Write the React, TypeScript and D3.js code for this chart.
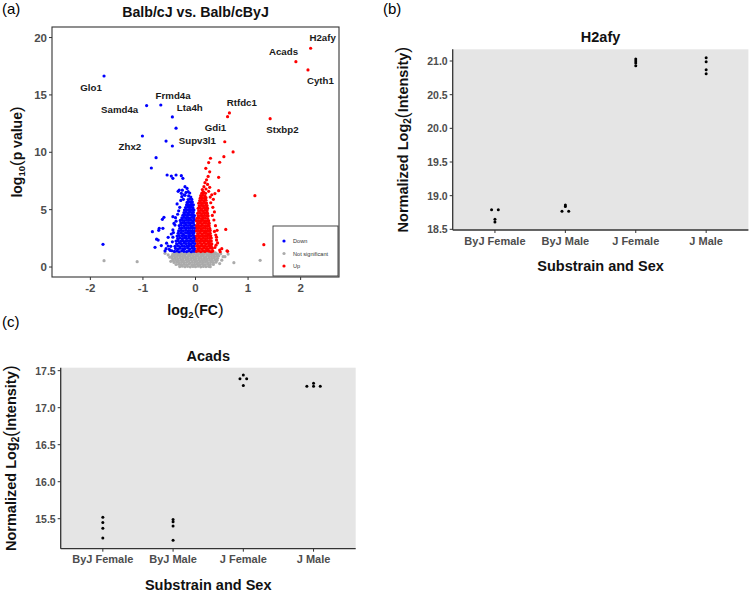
import React from "react";
import * as d3 from "d3";

// ---------------- Panel (a): volcano data ----------------
const volcanoXTicks = [-2, -1, 0, 1, 2];
const volcanoYTicks = [0, 5, 10, 15, 20];
const legendLabels = ["Down", "Not significant", "Up"];

// [log2 FC, -log10 p]
const downPoints: [number, number][] = [
  [-1.74, 16.65], [-0.93, 14.07], [-0.66, 14.12], [-0.44, 13.08], [-0.37, 12.1], [-1.01, 11.42], [-0.56, 10.98], [-0.44, 10.55],
  [-0.75, 9.53], [-0.84, 8.63], [-0.54, 8.02], [-0.46, 7.93], [-0.43, 7.73], [-0.37, 8.02], [-0.27, 7.96], [-0.24, 7.73],
  [-0.2, 7.0], [-0.31, 6.71], [-0.27, 6.42], [-0.26, 6.13], [-0.14, 6.57], [-0.43, 4.39], [-0.63, 4.16], [-0.6, 4.33],
  [-0.69, 3.37], [-0.62, 3.37], [-0.82, 3.08], [-0.74, 2.43], [-0.77, 1.72], [-0.55, 2.08], [-0.5, 1.55], [-0.46, 2.88],
  [-0.52, 2.59], [-0.43, 3.23], [-0.39, 3.66], [-0.37, 4.0], [-1.76, 1.98], [-0.65, 1.87], [-0.56, 1.6], [-0.58, 1.4],
  [-0.48, 1.45], [-0.71, 2.35], [-0.7, 3.2], [-0.52, 1.83],
  [-0.2, 6.25], [-0.13, 6.2], [-0.18, 6.5], [-0.11, 6.45], [-0.22, 6.3], [-0.25, 6.7], [-0.16, 6.85], [-0.33, 6.6],
  [-0.35, 5.5], [-0.3, 5.2], [-0.28, 5.8], [-0.34, 4.6], [-0.38, 4.3], [-0.32, 4.9], [-0.41, 3.8], [-0.44, 2.2],
  [-0.42, 3.0], [-0.47, 1.8], [-0.45, 1.42], [-0.43, 2.6], [-0.23, 5.9], [-0.09, 6.1],
  [-0.4, 1.36], [-0.35, 1.4], [-0.31, 1.33], [-0.26, 1.42], [-0.22, 1.37], [-0.17, 1.35], [-0.13, 1.41], [-0.08, 1.34], [-0.04, 1.39], [-0.01, 1.38],
  [-0.38, 1.62], [-0.33, 1.57], [-0.29, 1.64], [-0.24, 1.59], [-0.2, 1.61], [-0.15, 1.66], [-0.11, 1.58], [-0.06, 1.63], [-0.02, 1.6],
  [-0.39, 1.8], [-0.34, 1.85], [-0.3, 1.79], [-0.25, 1.84], [-0.21, 1.81], [-0.16, 1.83], [-0.12, 1.86], [-0.07, 1.8], [-0.03, 1.82],
  [-0.36, 2.03], [-0.31, 2.07], [-0.27, 2.02], [-0.22, 2.08], [-0.18, 2.04], [-0.13, 2.06], [-0.09, 2.01], [-0.05, 2.07], [-0.01, 2.05],
  [-0.37, 2.26], [-0.33, 2.3], [-0.28, 2.24], [-0.24, 2.29], [-0.19, 2.25], [-0.15, 2.28], [-0.1, 2.27], [-0.06, 2.23], [-0.02, 2.3],
  [-0.34, 2.48], [-0.3, 2.52], [-0.25, 2.47], [-0.21, 2.53], [-0.17, 2.49], [-0.12, 2.51], [-0.08, 2.46], [-0.04, 2.52], [-0.01, 2.5],
  [-0.35, 2.7], [-0.31, 2.74], [-0.26, 2.71], [-0.22, 2.75], [-0.18, 2.69], [-0.13, 2.73], [-0.09, 2.72], [-0.05, 2.76], [-0.02, 2.7],
  [-0.33, 2.94], [-0.28, 2.97], [-0.24, 2.92], [-0.19, 2.98], [-0.15, 2.95], [-0.11, 2.93], [-0.07, 2.97], [-0.03, 2.96],
  [-0.32, 3.15], [-0.27, 3.19], [-0.23, 3.16], [-0.18, 3.2], [-0.14, 3.14], [-0.1, 3.18], [-0.06, 3.17], [-0.02, 3.15],
  [-0.3, 3.38], [-0.26, 3.42], [-0.21, 3.39], [-0.17, 3.41], [-0.13, 3.37], [-0.09, 3.43], [-0.05, 3.4], [-0.01, 3.38],
  [-0.31, 3.61], [-0.27, 3.64], [-0.22, 3.6], [-0.18, 3.65], [-0.14, 3.62], [-0.1, 3.63], [-0.06, 3.59], [-0.02, 3.64],
  [-0.28, 3.84], [-0.24, 3.87], [-0.2, 3.83], [-0.16, 3.88], [-0.12, 3.85], [-0.08, 3.86], [-0.04, 3.84],
  [-0.29, 4.06], [-0.25, 4.09], [-0.21, 4.05], [-0.17, 4.1], [-0.13, 4.07], [-0.09, 4.08], [-0.05, 4.04], [-0.02, 4.09],
  [-0.26, 4.28], [-0.22, 4.32], [-0.18, 4.29], [-0.14, 4.31], [-0.1, 4.27], [-0.06, 4.33], [-0.03, 4.3],
  [-0.24, 4.51], [-0.2, 4.54], [-0.16, 4.5], [-0.12, 4.55], [-0.08, 4.52], [-0.05, 4.53], [-0.02, 4.49],
  [-0.22, 4.74], [-0.18, 4.77], [-0.14, 4.73], [-0.11, 4.78], [-0.07, 4.75], [-0.04, 4.76],
  [-0.21, 4.96], [-0.17, 4.99], [-0.13, 4.95], [-0.1, 5.0], [-0.06, 4.97], [-0.03, 4.98],
  [-0.19, 5.18], [-0.15, 5.22], [-0.12, 5.19], [-0.08, 5.21], [-0.05, 5.17],
  [-0.17, 5.41], [-0.14, 5.44], [-0.1, 5.4], [-0.07, 5.45], [-0.04, 5.42],
  [-0.16, 5.63], [-0.12, 5.67], [-0.09, 5.64], [-0.06, 5.66],
  [-0.14, 5.88], [-0.1, 5.92], [-0.07, 5.89],
];

const upPoints: [number, number][] = [
  [2.19, 19.07], [1.91, 17.9], [2.14, 17.18], [0.645, 13.43], [0.61, 13.1], [1.42, 12.93], [0.557, 10.92], [0.715, 10.03],
  [0.54, 9.62], [0.285, 9.48], [0.46, 9.13], [0.25, 9.1], [0.196, 8.6], [0.27, 8.3], [0.44, 7.82], [0.44, 6.65],
  [0.37, 6.4], [1.13, 6.22], [0.576, 3.28], [0.41, 3.2], [0.4, 2.6], [0.386, 2.79], [0.4, 2.35], [0.39, 1.9],
  [0.46, 1.48], [0.6, 1.42], [1.3, 1.95], [0.61, 1.37], [0.47, 1.33],
  [0.21, 7.6], [0.18, 7.35], [0.23, 7.2], [0.16, 7.0], [0.27, 6.95], [0.2, 6.8], [0.13, 6.75], [0.25, 6.6],
  [0.31, 6.3], [0.34, 5.9], [0.29, 5.6], [0.33, 5.2], [0.36, 4.8], [0.32, 4.5], [0.35, 4.1], [0.38, 3.6],
  [0.36, 3.1], [0.42, 2.1], [0.37, 1.7], [0.5, 1.6], [0.28, 6.1], [0.24, 7.9], [0.15, 6.55],
  [0.02, 1.37], [0.06, 1.41], [0.1, 1.35], [0.14, 1.4], [0.18, 1.36], [0.22, 1.42], [0.26, 1.38], [0.3, 1.34], [0.33, 1.39],
  [0.04, 1.6], [0.08, 1.63], [0.12, 1.58], [0.16, 1.64], [0.2, 1.61], [0.24, 1.59], [0.28, 1.65], [0.32, 1.62],
  [0.02, 1.83], [0.06, 1.8], [0.1, 1.85], [0.14, 1.81], [0.18, 1.84], [0.22, 1.79], [0.26, 1.86], [0.3, 1.82],
  [0.04, 2.04], [0.08, 2.07], [0.12, 2.02], [0.16, 2.08], [0.2, 2.03], [0.24, 2.06], [0.28, 2.05], [0.31, 2.01],
  [0.02, 2.26], [0.06, 2.29], [0.1, 2.24], [0.14, 2.3], [0.18, 2.25], [0.22, 2.28], [0.26, 2.23], [0.3, 2.27],
  [0.03, 2.48], [0.07, 2.51], [0.11, 2.46], [0.15, 2.52], [0.19, 2.47], [0.23, 2.5], [0.27, 2.49], [0.3, 2.53],
  [0.02, 2.7], [0.06, 2.73], [0.1, 2.68], [0.14, 2.74], [0.18, 2.71], [0.22, 2.69], [0.26, 2.75], [0.29, 2.72],
  [0.04, 2.92], [0.08, 2.95], [0.12, 2.9], [0.16, 2.96], [0.2, 2.93], [0.24, 2.91], [0.28, 2.94],
  [0.02, 3.14], [0.06, 3.17], [0.1, 3.12], [0.14, 3.18], [0.18, 3.15], [0.22, 3.13], [0.26, 3.16], [0.28, 3.19],
  [0.03, 3.36], [0.07, 3.39], [0.11, 3.34], [0.15, 3.4], [0.19, 3.37], [0.23, 3.35], [0.27, 3.38],
  [0.02, 3.58], [0.06, 3.61], [0.1, 3.56], [0.14, 3.62], [0.18, 3.59], [0.22, 3.57], [0.26, 3.6],
  [0.04, 3.8], [0.08, 3.83], [0.12, 3.78], [0.16, 3.84], [0.2, 3.81], [0.24, 3.79], [0.26, 3.82],
  [0.02, 4.02], [0.06, 4.05], [0.1, 4.0], [0.14, 4.06], [0.18, 4.03], [0.22, 4.01], [0.25, 4.04],
  [0.03, 4.24], [0.07, 4.27], [0.11, 4.22], [0.15, 4.28], [0.19, 4.25], [0.23, 4.23],
  [0.05, 4.46], [0.09, 4.49], [0.13, 4.44], [0.17, 4.5], [0.21, 4.47], [0.24, 4.45],
  [0.04, 4.68], [0.08, 4.71], [0.12, 4.66], [0.16, 4.72], [0.2, 4.69], [0.23, 4.67],
  [0.06, 4.9], [0.1, 4.93], [0.14, 4.88], [0.18, 4.94], [0.22, 4.91],
  [0.05, 5.12], [0.09, 5.15], [0.13, 5.1], [0.17, 5.16], [0.21, 5.13], [0.23, 5.11],
  [0.07, 5.34], [0.11, 5.37], [0.15, 5.32], [0.19, 5.38], [0.22, 5.35],
  [0.06, 5.56], [0.1, 5.59], [0.14, 5.54], [0.18, 5.6], [0.21, 5.57],
  [0.08, 5.78], [0.12, 5.81], [0.16, 5.76], [0.2, 5.82],
  [0.09, 6.0], [0.13, 6.03], [0.17, 5.98], [0.2, 6.04],
  [0.1, 6.22], [0.14, 6.25], [0.18, 6.2],
  [0.12, 6.44], [0.16, 6.47], [0.19, 6.42],
];

const notSigPoints: [number, number][] = [
  [-1.74, 0.55], [-1.11, 0.47], [0.73, 0.38], [1.23, 0.58], [0.56, 0.9], [0.62, 1.13], [0.525, 0.9], [-0.58, 1.19],
  [-0.49, 0.85], [-0.52, 1.05], [0.48, 1.15], [0.5, 0.6], [-0.47, 0.5], [0.46, 0.3],
  [-0.3, 0.04], [-0.25, 0.07], [-0.2, 0.03], [-0.15, 0.06], [-0.1, 0.02], [-0.05, 0.05], [0.0, 0.03], [0.05, 0.07], [0.1, 0.02], [0.15, 0.05], [0.2, 0.04], [0.25, 0.06], [0.28, 0.03],
  [-0.37, 0.22], [-0.32, 0.25], [-0.27, 0.2], [-0.22, 0.24], [-0.17, 0.21], [-0.12, 0.26], [-0.07, 0.19], [-0.02, 0.23], [0.03, 0.25], [0.08, 0.2], [0.13, 0.24], [0.18, 0.22], [0.23, 0.26], [0.28, 0.21], [0.34, 0.23],
  [-0.41, 0.4], [-0.36, 0.43], [-0.31, 0.38], [-0.26, 0.42], [-0.21, 0.39], [-0.16, 0.44], [-0.11, 0.37], [-0.06, 0.41], [-0.01, 0.43], [0.04, 0.38], [0.09, 0.42], [0.14, 0.4], [0.19, 0.44], [0.24, 0.37], [0.29, 0.41], [0.34, 0.39], [0.39, 0.42],
  [-0.43, 0.58], [-0.38, 0.61], [-0.33, 0.56], [-0.28, 0.6], [-0.23, 0.57], [-0.18, 0.62], [-0.13, 0.55], [-0.08, 0.59], [-0.03, 0.61], [0.02, 0.56], [0.07, 0.6], [0.12, 0.58], [0.17, 0.62], [0.22, 0.55], [0.27, 0.59], [0.32, 0.57], [0.37, 0.61], [0.41, 0.58],
  [-0.44, 0.76], [-0.39, 0.79], [-0.34, 0.74], [-0.29, 0.78], [-0.24, 0.75], [-0.19, 0.8], [-0.14, 0.73], [-0.09, 0.77], [-0.04, 0.79], [0.01, 0.74], [0.06, 0.78], [0.11, 0.76], [0.16, 0.8], [0.21, 0.73], [0.26, 0.77], [0.31, 0.75], [0.36, 0.79], [0.42, 0.76],
  [-0.45, 0.94], [-0.4, 0.97], [-0.35, 0.92], [-0.3, 0.96], [-0.25, 0.93], [-0.2, 0.98], [-0.15, 0.91], [-0.1, 0.95], [-0.05, 0.97], [0.0, 0.92], [0.05, 0.96], [0.1, 0.94], [0.15, 0.98], [0.2, 0.91], [0.25, 0.95], [0.3, 0.93], [0.35, 0.97], [0.4, 0.94], [0.44, 0.96],
  [-0.43, 1.12], [-0.38, 1.15], [-0.33, 1.1], [-0.28, 1.14], [-0.23, 1.11], [-0.18, 1.16], [-0.13, 1.09], [-0.08, 1.13], [-0.03, 1.15], [0.02, 1.1], [0.07, 1.14], [0.12, 1.12], [0.17, 1.16], [0.22, 1.09], [0.27, 1.13], [0.32, 1.11], [0.37, 1.15], [0.42, 1.12],
  [-0.4, 1.26], [-0.34, 1.24], [-0.28, 1.27], [-0.22, 1.25], [-0.16, 1.28], [-0.1, 1.23], [-0.04, 1.26], [0.03, 1.24], [0.09, 1.27], [0.15, 1.25], [0.21, 1.28], [0.27, 1.23], [0.33, 1.26], [0.38, 1.24],
];

// labelled genes
const geneNames = ["H2afy", "Acads", "Cyth1", "Glo1", "Frmd4a", "Samd4a", "Lta4h", "Rtfdc1", "Gdi1", "Stxbp2", "Supv3l1", "Zhx2"];
const geneFC = [2.19, 1.91, 2.14, -1.74, -0.66, -0.93, -0.44, 0.645, 0.557, 1.42, -0.44, -1.01];
const geneP = [19.07, 17.9, 17.18, 16.65, 14.12, 14.07, 13.08, 13.43, 10.92, 12.93, 10.55, 11.42];

// ---------------- Panels (b), (c): dot plot data ----------------
const groups = ["ByJ Female", "ByJ Male", "J Female", "J Male"];
const h2afyByJFemale = [18.79, 18.79, 18.65, 18.61];
const h2afyByJMale = [18.86, 18.84, 18.77, 18.77];
const h2afyJFemale = [21.03, 21.0, 20.97, 20.93];
const h2afyJMale = [21.05, 20.99, 20.87, 20.81];
const h2afyTicks = [18.5, 19.0, 19.5, 20.0, 20.5, 21.0];

const acadsByJFemale = [15.52, 15.45, 15.37, 15.24];
const acadsByJMale = [15.49, 15.46, 15.4, 15.21];
const acadsJFemale = [17.44, 17.39, 17.39, 17.3];
const acadsJMale = [17.33, 17.29, 17.29, 17.29];
const acadsTicks = [15.5, 16.0, 16.5, 17.0, 17.5];

// ---------------- styling / layout ----------------
const FONT = "'Liberation Sans', Arial, Helvetica, sans-serif";
const TICK_COL = "#4D4D4D";
const LINE_COL = "#333333";
const BLUE = "#0000FF";
const RED = "#FF0000";
const GREY = "#ABABAB";

// label offsets in px (label placement, ggrepel-like)
const labelDx = [12, -12.4, 12.4, -13, 12.3, -27, 17.4, 12.4, -9.3, 12.3, 25, -12.5];
const labelDy = [-10.5, -10, 11, 11.7, -10, 4, -9.3, -10.3, -14, 11.3, -5, 10.7];

function Volcano() {
  const L = 52, R = 339, T = 27, B = 277;
  const x = d3.scaleLinear().domain([-2.73, 2.73]).range([L, R]);
  const y = d3.scaleLinear().domain([-0.87, 20.92]).range([B, T]);
  const r = 1.6;
  const legendX = 273, legendY = 226, legendW = 65, legendH = 50;
  const legendColors = [BLUE, GREY, RED];
  return (
    <g fontFamily={FONT}>
      <text x={2} y={14} fontSize={15}>(a)</text>
      <text x={(L + R) / 2} y={17} textAnchor="middle" fontSize={14.2} fontWeight="bold" fill="#111">
        Balb/cJ vs. Balb/cByJ
      </text>
      <rect x={L} y={T} width={R - L} height={B - T} fill="#fff" />
      {notSigPoints.map((d, i) => (
        <circle key={"g" + i} cx={x(d[0])} cy={y(d[1])} r={r} fill={GREY} />
      ))}
      {downPoints.map((d, i) => (
        <circle key={"b" + i} cx={x(d[0])} cy={y(d[1])} r={r} fill={BLUE} />
      ))}
      {upPoints.map((d, i) => (
        <circle key={"r" + i} cx={x(d[0])} cy={y(d[1])} r={r} fill={RED} />
      ))}
      {geneNames.map((g, i) => (
        <text key={g} x={x(geneFC[i]) + labelDx[i]} y={y(geneP[i]) + labelDy[i]} textAnchor="middle"
          dominantBaseline="central" fontSize={9.7} fontWeight="bold" fill="#1a1a1a">{g}</text>
      ))}
      <rect x={L} y={T} width={R - L} height={B - T} fill="none" stroke={LINE_COL} strokeWidth={1.1} />
      {volcanoYTicks.map((t) => (
        <g key={"yt" + t}>
          <line x1={L - 3} x2={L} y1={y(t)} y2={y(t)} stroke={LINE_COL} strokeWidth={1} />
          <text x={L - 5} y={y(t)} textAnchor="end" dominantBaseline="central" fontSize={11.5}
            fontWeight="bold" fill={TICK_COL}>{t}</text>
        </g>
      ))}
      {volcanoXTicks.map((t) => (
        <g key={"xt" + t}>
          <line x1={x(t)} x2={x(t)} y1={B} y2={B + 3} stroke={LINE_COL} strokeWidth={1} />
          <text x={x(t)} y={B + 11} textAnchor="middle" dominantBaseline="central" fontSize={11.5}
            fontWeight="bold" fill={TICK_COL}>{t}</text>
        </g>
      ))}
      {/* legend */}
      <rect x={legendX} y={legendY} width={legendW} height={legendH} fill="#fff" stroke={LINE_COL} strokeWidth={0.9} />
      {legendLabels.map((lab, i) => (
        <g key={lab}>
          <circle cx={legendX + 11} cy={legendY + 15 + i * 12.5} r={1.6} fill={legendColors[i]} />
          <text x={legendX + 20} y={legendY + 15 + i * 12.5} dominantBaseline="central" fontSize={5.6}
            fill="#333">{lab}</text>
        </g>
      ))}
      {/* axis titles */}
      <text x={(L + R) / 2} y={315} textAnchor="middle" fontSize={14} fontWeight="bold" fill="#111">
        log<tspan fontSize={9.5} dy={3}>2</tspan>
        <tspan dy={-3} fontSize={17} fontWeight="normal">(</tspan>FC<tspan fontSize={17} fontWeight="normal">)</tspan>
      </text>
      <text transform={`translate(22,${(T + B) / 2}) rotate(-90)`} textAnchor="middle" fontSize={14}
        fontWeight="bold" fill="#111">
        log<tspan fontSize={9.5} dy={3}>10</tspan>
        <tspan dy={-3} fontSize={17} fontWeight="normal">(</tspan>p value<tspan fontSize={17} fontWeight="normal">)</tspan>
      </text>
    </g>
  );
}

type DotProps = {
  label: string;
  title: string;
  L: number; R: number; T: number; B: number;
  domain: [number, number];
  ticks: number[];
  series: number[][];
  labelX: number; labelY: number;
  yTitleX: number;
};

function DotPanel(p: DotProps) {
  const { L, R, T, B } = p;
  const x = d3.scalePoint<string>().domain(groups).range([L, R]).padding(0.6);
  const y = d3.scaleLinear().domain(p.domain).range([B, T]);
  const spacing = 6.7;
  const dots: { cx: number; cy: number }[] = [];
  p.series.forEach((vals, gi) => {
    const cx0 = x(groups[gi]) as number;
    const counts = d3.rollup(vals, (v) => v.length, (v) => v);
    const seen = new Map<number, number>();
    vals.forEach((v) => {
      const n = counts.get(v) || 1;
      const k = seen.get(v) || 0;
      seen.set(v, k + 1);
      dots.push({ cx: cx0 + (k - (n - 1) / 2) * spacing, cy: y(v) });
    });
  });
  const midY = (T + B) / 2;
  return (
    <g fontFamily={FONT}>
      <text x={p.labelX} y={p.labelY} fontSize={15}>{p.label}</text>
      <text x={(L + R) / 2} y={T - 7} textAnchor="middle" fontSize={14.5} fontWeight="bold" fill="#111">{p.title}</text>
      <rect x={L} y={T} width={R - L} height={B - T} fill="#E5E5E5" />
      <line x1={L} x2={L} y1={T} y2={B} stroke={LINE_COL} strokeWidth={1.3} />
      <line x1={L} x2={R} y1={B} y2={B} stroke={LINE_COL} strokeWidth={1.3} />
      {p.ticks.map((t) => (
        <g key={"t" + t}>
          <line x1={L - 3} x2={L} y1={y(t)} y2={y(t)} stroke={LINE_COL} strokeWidth={1} />
          <text x={L - 5} y={y(t)} textAnchor="end" dominantBaseline="central" fontSize={10.5}
            fontWeight="bold" fill={TICK_COL}>{t.toFixed(1)}</text>
        </g>
      ))}
      {groups.map((g) => (
        <g key={g}>
          <line x1={x(g)} x2={x(g)} y1={B} y2={B + 3} stroke={LINE_COL} strokeWidth={1} />
          <text x={x(g)} y={B + 10.5} textAnchor="middle" dominantBaseline="central" fontSize={11}
            fontWeight="bold" fill={TICK_COL}>{g}</text>
        </g>
      ))}
      {dots.map((d, i) => (
        <circle key={i} cx={d.cx} cy={d.cy} r={1.5} fill="#000" />
      ))}
      <text x={(L + R) / 2} y={B + 41} textAnchor="middle" fontSize={14.5} fontWeight="bold" fill="#111">
        Substrain and Sex
      </text>
      <text transform={`translate(${p.yTitleX},${midY}) rotate(-90)`} textAnchor="middle" fontSize={14.5}
        fontWeight="bold" fill="#111">
        Normalized Log<tspan fontSize={10} dy={3}>2</tspan>
        <tspan dy={-3} fontSize={17.5} fontWeight="normal">(</tspan>Intensity<tspan fontSize={17.5} fontWeight="normal">)</tspan>
      </text>
    </g>
  );
}

export default function App() {
  return (
    <svg width={750} height={592} viewBox="0 0 750 592"
      style={{ position: "absolute", left: 0, top: 0, display: "block", background: "#fff" }}>
      <rect x={0} y={0} width={750} height={592} fill="#fff" />
      <Volcano />
      <DotPanel label="(b)" title="H2afy" L={452.7} R={748.4} T={49.3} B={230}
        domain={[18.49, 21.174]} ticks={h2afyTicks}
        series={[h2afyByJFemale, h2afyByJMale, h2afyJFemale, h2afyJMale]}
        labelX={383} labelY={14} yTitleX={408} />
      <DotPanel label="(c)" title="Acads" L={60.7} R={355.7} T={367.7} B={548.7}
        domain={[15.095, 17.54]} ticks={acadsTicks}
        series={[acadsByJFemale, acadsByJMale, acadsJFemale, acadsJMale]}
        labelX={2} labelY={327} yTitleX={16} />
    </svg>
  );
}
